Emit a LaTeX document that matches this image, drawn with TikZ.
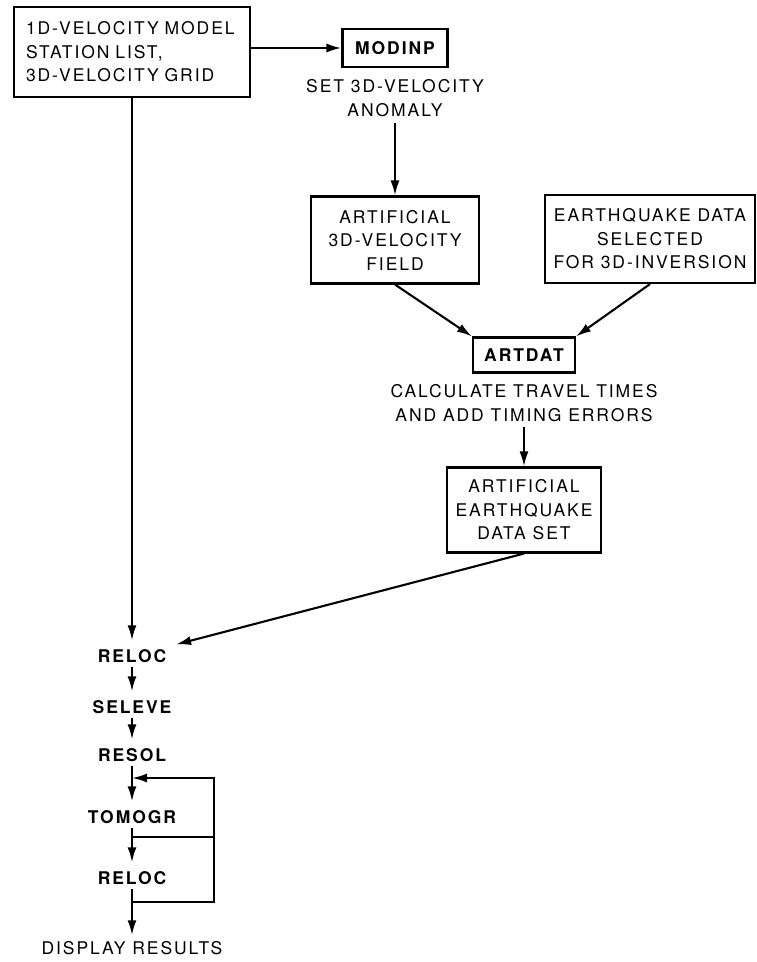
\documentclass[tikz,border=0pt]{standalone}
\usepackage{fontspec}
\setmainfont{TeX Gyre Heros}[LetterSpace=11]
\usetikzlibrary{arrows.meta}

\begin{document}
\begin{tikzpicture}[x=1pt,y=-1pt,line width=2.1pt,
    font=\fontsize{17.5}{23.5}\selectfont,
    box/.style={draw,rectangle,align=center,inner sep=0pt},
    prog/.style={font=\fontsize{17.5}{23.5}\selectfont\bfseries,inner xsep=4pt,inner ysep=3pt},
    note/.style={align=center,inner sep=0pt},
    arr/.style={-{Latex[length=15pt,width=9pt]}},
    down/.style={arr,shorten >=5pt}]
        \useasboundingbox (0,0) rectangle (757,962);

        \node[box,align=left,text width=212pt,minimum width=236pt,minimum height=90pt] (input) at (132,52) {1D-VELOCITY MODEL\\STATION LIST,\\3D-VELOCITY GRID};
        \node[box,prog,minimum width=105pt,minimum height=38pt] (modinp) at (395,48) {MODINP};
        \node[note] (anomaly) at (395,98) {SET 3D-VELOCITY\\ANOMALY};
        \node[box,minimum width=168pt,minimum height=87pt] (field) at (395,240) {ARTIFICIAL\\3D-VELOCITY\\FIELD};
        \node[box,minimum width=210pt,minimum height=88pt] (eqdata) at (650,239) {EARTHQUAKE DATA\\SELECTED\\FOR 3D-INVERSION};
        \node[box,prog,minimum width=102pt,minimum height=35pt] (artdat) at (524,355) {ARTDAT};
        \node[note] (calc) at (524,403) {CALCULATE TRAVEL TIMES\\AND ADD TIMING ERRORS};
        \node[box,minimum width=154pt,minimum height=85pt] (artset) at (524,510) {ARTIFICIAL\\EARTHQUAKE\\DATA SET};

        \node[prog] (reloc) at (132,656) {RELOC};
        \node[prog] (seleve) at (132,707) {SELEVE};
        \node[prog] (resol) at (132,755) {RESOL};
        \node[prog] (tomogr) at (132,817) {TOMOGR};
        \node[prog] (relocb) at (132,878) {RELOC};
        \node[note] (display) at (132,948) {DISPLAY RESULTS};

        \coordinate (looptop) at (214,778);
        \coordinate (loopmid) at (214,837);
        \coordinate (loopbot) at (214,902);

        \draw[arr] (input.east |- modinp) -- (modinp);
        \draw[arr,shorten <=6pt] (anomaly) -- (field);
        \draw[arr] (field.south) -- (artdat.north west);
        \draw[arr] (eqdata.south) -- (artdat.north east);
        \draw[arr,shorten <=4pt] (calc) -- (artset);
        \draw[down] (artset.south) -- (reloc);
        \draw[down] (input) -- (reloc);
        \draw[down] (reloc) -- (seleve);
        \draw[down] (seleve) -- (resol);
        \draw[down] (resol) -- (tomogr);
        \draw[down] (tomogr) -- (relocb);
        \draw[down] (relocb) -- (display);

        \draw[arr] (relocb.south |- loopbot) -- (loopbot) -- (looptop) -- (tomogr.north |- looptop);
        \draw (tomogr.south |- loopmid) -- (loopmid);
    \end{tikzpicture}
\end{document}
